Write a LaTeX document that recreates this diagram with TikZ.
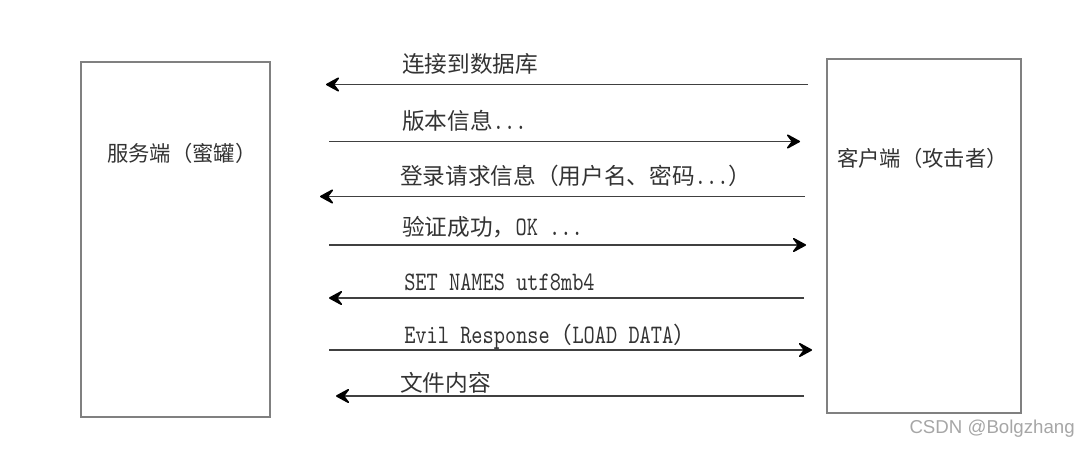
\documentclass[tikz,border=0pt]{standalone}
\usepackage{fontspec}
\usetikzlibrary{arrows.meta}
\newfontfamily\cjk{Noto Sans CJK SC}
\newfontfamily\wmfont{Liberation Sans}
\newfontfamily\mono{lmmono10-regular.otf}[FakeStretch=0.8]
\newcommand\lat[1]{{\mono\fontsize{20}{22}\selectfont #1}}

\begin{document}
\begin{tikzpicture}[x=0.75pt, y=-0.75pt, font=\cjk\fontsize{17}{20}\selectfont,
  b/.style={draw=black!50, line width=1.5pt, inner sep=0pt},
  bl/.style={anchor=west, inner sep=0pt, text=black!80, font=\cjk\fontsize{16}{20}\selectfont},
  t/.style={anchor=base west, inner sep=0pt, text=black!80},
  a/.style={-{Stealth[length=12pt, width=13pt, inset=5pt, round, color=black]}, line width=1.2pt, draw=black!75}]
  \useasboundingbox (0,0) rectangle (1080,449);
  \node[b, minimum width=141.75pt, minimum height=266.25pt] (srv) at (175.5,239.5) {};
  \node[b, minimum width=145.5pt, minimum height=265.5pt] (cli) at (924,236) {};
  \node[bl] (srvl) at (107,153) {服务端（蜜罐）};
  \node[bl] (clil) at (837,158) {客户端（攻击者）};
  % free ends of the messages, left (l) and right (r)
  \coordinate (l1) at (326,84.5);  \coordinate (r1) at (808,84.5);
  \coordinate (l2) at (329,141.5); \coordinate (r2) at (800,141.5);
  \coordinate (l3) at (320,196.5); \coordinate (r3) at (805,196.5);
  \coordinate (l4) at (329,245);   \coordinate (r4) at (806,245);
  \coordinate (l5) at (329,298);   \coordinate (r5) at (804,298);
  \coordinate (l6) at (329,350);   \coordinate (r6) at (812,350);
  \coordinate (l7) at (336,396);   \coordinate (r7) at (804,396);
  \node[t] (m1) at (402,73)  {连接到数据库};
  \node[t] (m2) at (402,130) {版本信息\lat{...}};
  \node[t] (m3) at (400,184) {登录请求信息（用户名、密码\lat{...}）};
  \node[t] (m4) at (402,235) {验证成功，\lat{OK ...}};
  \node[t] (m5) at (404,290) {\lat{SET NAMES utf8mb4}};
  \node[t] (m6) at (404,343) {\lat{Evil Response}（\lat{LOAD DATA}）};
  \node[t] (m7) at (400,391) {文件内容};
  \draw[a] (r1) -- (l1);
  \draw[a] (l2) -- (r2);
  \draw[a] (r3) -- (l3);
  \draw[a] (l4) -- (r4);
  \draw[a] (r5) -- (l5);
  \draw[a] (l6) -- (r6);
  \draw[a] (r7) -- (l7);
  \node[anchor=east, inner sep=0pt, text=black!35, font=\wmfont\fontsize{14}{16}\selectfont] (wm) at (1075,429) {CSDN @Bolgzhang};
\end{tikzpicture}
\end{document}
